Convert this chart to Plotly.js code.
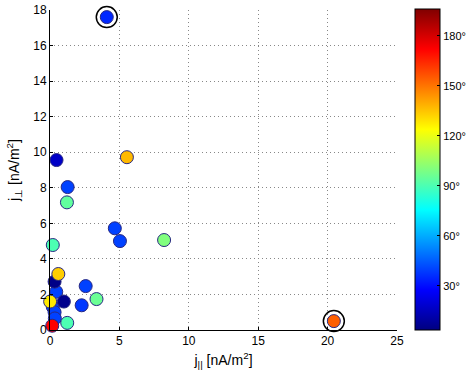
<!DOCTYPE html>
<html>
<head>
<meta charset="utf-8">
<script src="https://cdn.plot.ly/plotly-3.0.1.min.js"></script>
<style>html,body{margin:0;padding:0;background:#fff;}#chart{width:471px;height:370px;}</style>
</head>
<body>
<div id="chart"></div>
<script>
// j_parallel [nA/m^2]
var jPar = [0.45, 0.2, 0.33, 0.35, 4.09, 0.47, 5.54, 1.27, 1.22, 4.67, 5.04, 8.22, 0.2, 0.33, 0.6, 2.57, 3.35, 2.28, 0.01, 1.0, 1.24, 0.16, 20.45];
// j_perp [nA/m^2]
var jPerp = [2.15, 1.3, 1.0, 0.65, 17.6, 9.56, 9.72, 8.04, 7.18, 5.72, 5.0, 5.06, 4.78, 2.72, 3.15, 2.47, 1.74, 1.39, 1.6, 1.6, 0.4, 0.24, 0.5];
// angle [deg]
var angle = [40, 40, 40, 40, 35, 17, 137, 40, 94, 40, 40, 100, 90, 5, 133, 40, 96, 38, 128, 6, 90, 172, 154];
// indices of circled events
var circled = [4, 22];
var cTicks = [30, 60, 90, 120, 150, 180];
var cTickText = ['30°', '60°', '90°', '120°', '150°', '180°'];
var xTicks = [0, 5, 10, 15, 20, 25];
var yTicks = [0, 2, 4, 6, 8, 10, 12, 14, 16, 18];

var jet = [[0, '#000080'], [0.125, '#0000ff'], [0.375, '#00ffff'], [0.625, '#ffff00'], [0.875, '#ff0000'], [1, '#800000']];

var main = {
  type: 'scatter', mode: 'markers', cliponaxis: false,
  x: jPar, y: jPerp,
  marker: {
    size: 13, color: angle, colorscale: jet, cmin: 3.6, cmax: 196,
    line: {color: 'rgb(40,40,130)', width: 1},
    colorbar: {
      x: (415 - 50) / 347, xanchor: 'left',
      y: (330 - 9) / 320, yanchor: 'top',
      len: 321 / 320, lenmode: 'fraction',
      thickness: 25, thicknessmode: 'pixels',
      outlinewidth: 1, outlinecolor: '#000',
      tickvals: cTicks, ticktext: cTickText,
      ticks: 'inside', ticklen: 3, tickcolor: '#000',
      tickfont: {family: 'Liberation Sans, Arial, sans-serif', size: 11, color: '#000'},
      xpad: 0, ypad: 0, borderwidth: 0
    }
  },
  showlegend: false, hoverinfo: 'x+y'
};

var ring = {
  type: 'scatter', mode: 'markers', cliponaxis: false,
  x: circled.map(function(i){return jPar[i];}),
  y: circled.map(function(i){return jPerp[i];}),
  marker: {symbol: 'circle-open', size: 21, color: '#000', line: {color: '#000', width: 1.5}},
  showlegend: false, hoverinfo: 'skip'
};

var fontFam = 'Liberation Sans, Arial, sans-serif';
var layout = {
  width: 471, height: 370,
  margin: {l: 50, r: 74, t: 10, b: 40, pad: 0, autoexpand: false},
  paper_bgcolor: '#fff', plot_bgcolor: '#fff',
  font: {family: fontFam, size: 12, color: '#000'},
  xaxis: {
    range: [0, 25], tickvals: xTicks, ticks: 'inside', ticklen: 3, tickcolor: '#000',
    showline: true, linecolor: '#000', linewidth: 1, mirror: false,
    showgrid: true, gridcolor: '#888', griddash: '1px,3px', gridwidth: 1,
    zeroline: false, tickfont: {size: 12},
    title: {text: 'j<sub>||</sub> [nA/m<sup>2</sup>]', font: {size: 14}, standoff: 8}
  },
  yaxis: {
    range: [0, 18], tickvals: yTicks, ticks: 'inside', ticklen: 3, tickcolor: '#000',
    showline: true, linecolor: '#000', linewidth: 1, mirror: false,
    showgrid: true, gridcolor: '#888', griddash: '1px,3px', gridwidth: 1,
    zeroline: false, tickfont: {size: 12},
    title: {text: 'j<sub>⊥</sub> [nA/m<sup>2</sup>]', font: {size: 14}, standoff: 10}
  }
};

Plotly.newPlot('chart', [main, ring], layout, {displayModeBar: false, staticPlot: true});
</script>
</body>
</html>
